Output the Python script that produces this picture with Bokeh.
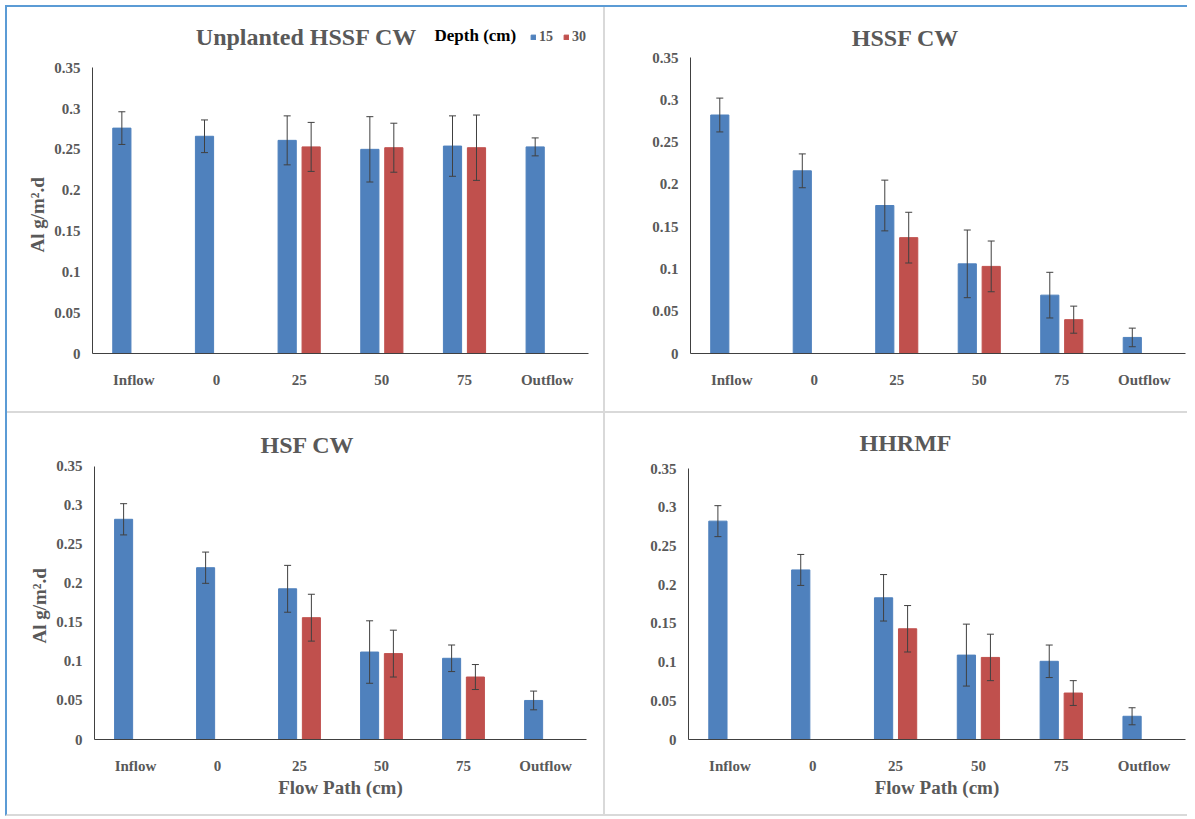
from bokeh.plotting import figure
from bokeh.models import (ColumnDataSource, FactorRange, Range1d, Whisker, TeeHead, Label,
                          Legend, LegendItem, FixedTicker, CustomJSTickFormatter, Title, Spacer)
from bokeh.transform import dodge
from bokeh.layouts import row, column
from bokeh.embed import file_html
from bokeh.resources import INLINE

# ---------------- data ----------------
cats = ["Inflow", "0", "25", "50", "75", "Outflow"]
yticks = [0, 0.05, 0.1, 0.15, 0.2, 0.25, 0.3, 0.35]
ymax = 0.35

titles = ["Unplanted HSSF CW", "HSSF CW", "HSF CW", "HHRMF"]
depth_labels = ["15", "30"]
y_title = "Al g/m\u00b2.d"
x_title = "Flow Path (cm)"

unpl_15 = [0.276, 0.266, 0.261, 0.250, 0.254, 0.253]
unpl_15_err = [0.020, 0.020, 0.030, 0.040, 0.037, 0.011]
unpl_30 = [None, None, 0.253, 0.252, 0.252, None]
unpl_30_err = [None, None, 0.030, 0.030, 0.040, None]

hssf_15 = [0.282, 0.216, 0.175, 0.106, 0.069, 0.019]
hssf_15_err = [0.020, 0.020, 0.030, 0.040, 0.027, 0.011]
hssf_30 = [None, None, 0.137, 0.103, 0.040, None]
hssf_30_err = [None, None, 0.030, 0.030, 0.016, None]

hsf_15 = [0.282, 0.220, 0.193, 0.112, 0.104, 0.050]
hsf_15_err = [0.020, 0.020, 0.030, 0.040, 0.017, 0.012]
hsf_30 = [None, None, 0.156, 0.110, 0.080, None]
hsf_30_err = [None, None, 0.030, 0.030, 0.016, None]

hhrmf_15 = [0.282, 0.219, 0.183, 0.109, 0.101, 0.030]
hhrmf_15_err = [0.020, 0.020, 0.030, 0.040, 0.021, 0.011]
hhrmf_30 = [None, None, 0.143, 0.106, 0.060, None]
hhrmf_30_err = [None, None, 0.030, 0.030, 0.016, None]

# ---------------- style ----------------
BLUE = "#4f81bd"
RED = "#c0504d"
GRAY = "#595959"
SEP = "#d9d9d9"
FONT = "Liberation Serif"


def src_of(vals, errs):
    c, v, lo, up = [], [], [], []
    for cat, val, err in zip(cats, vals, errs):
        if val is None:
            continue
        c.append(cat)
        v.append(val)
        lo.append(val - err)
        up.append(val + err)
    return ColumnDataSource(dict(cat=c, v=v, lo=lo, up=up))


def make(title, d15, e15, d30, e30, w, h, ml, mb, mr, frame_h, plot_h, title_xy,
         ylabel_off=None, xlabel=None, legend=False):
    # the frame reaches above the 0.35 tick so the title can sit inside it;
    # the axis line itself is bounded to 0..0.35
    mt = h - mb - frame_h
    p = figure(x_range=FactorRange(*cats), y_range=Range1d(0, ymax * frame_h / plot_h),
               width=w, height=h, output_backend="svg", toolbar_location=None,
               min_border=0, min_border_left=ml, min_border_top=mt,
               min_border_bottom=mb, min_border_right=mr)
    p.outline_line_color = None
    p.grid.visible = False
    p.background_fill_color = "white"
    p.border_fill_color = "white"

    s15 = src_of(d15, e15)
    s30 = src_of(d30, e30)
    r15 = p.vbar(x=dodge("cat", -0.145, range=p.x_range), top="v", width=0.22,
                 source=s15, fill_color=BLUE, line_color=BLUE)
    r30 = p.vbar(x=dodge("cat", 0.145, range=p.x_range), top="v", width=0.22,
                 source=s30, fill_color=RED, line_color=RED)
    for s, off in ((s15, -0.145), (s30, 0.145)):
        wk = Whisker(base=dodge("cat", off, range=p.x_range), upper="up", lower="lo",
                     source=s, line_color="#404040", line_width=1, level="overlay",
                     upper_head=TeeHead(size=7, line_color="#404040", line_width=1),
                     lower_head=TeeHead(size=7, line_color="#404040", line_width=1))
        p.add_layout(wk)

    # axes
    p.yaxis.ticker = FixedTicker(ticks=yticks)
    p.yaxis.bounds = (0, ymax)
    p.yaxis.formatter = CustomJSTickFormatter(code="return parseFloat(tick.toFixed(2)).toString();")
    for ax in (p.xaxis[0], p.yaxis[0]):
        ax.major_tick_line_color = None
        ax.minor_tick_line_color = None
        ax.axis_line_color = "#404040"
        ax.axis_line_width = 1
        ax.major_label_text_font = FONT
        ax.major_label_text_font_style = "bold"
        ax.major_label_text_font_size = "15px"
        ax.major_label_text_color = GRAY
        ax.axis_label_text_font = FONT
        ax.axis_label_text_font_style = "bold"
        ax.axis_label_text_color = GRAY
    p.xaxis.axis_label_text_font_size = "19px"
    p.yaxis.major_label_standoff = 6
    p.xaxis.major_label_standoff = 12
    p.xaxis.axis_label_standoff = 0
    if xlabel:
        p.xaxis.axis_label = xlabel

    if ylabel_off is not None:
        # vertical axis title, left of the tick labels, centred on 0..0.35
        p.add_layout(Title(text=y_title, align="left", offset=ylabel_off, standoff=8,
                           text_font=FONT, text_font_style="bold", text_font_size="19px",
                           text_color=GRAY), "left")

    p.add_layout(Label(x=title_xy[0], y=title_xy[1], x_units="screen", y_units="screen",
                       text=title, text_align="center", text_baseline="alphabetic",
                       text_font=FONT, text_font_style="bold", text_font_size="24px",
                       text_color=GRAY))

    if legend:
        p.add_layout(Label(x=342, y=318, x_units="screen", y_units="screen",
                           text="Depth (cm)", text_align="left",
                           text_baseline="alphabetic", text_font=FONT,
                           text_font_style="bold", text_font_size="17px",
                           text_color="black"))
        lg = Legend(items=[LegendItem(label=depth_labels[0], renderers=[r15]),
                           LegendItem(label=depth_labels[1], renderers=[r30])],
                    orientation="horizontal", location=(438, 308),
                    padding=0, margin=0, border_line_color=None,
                    background_fill_alpha=0, glyph_width=6, glyph_height=6,
                    label_width=0, label_height=14, label_standoff=3, spacing=10,
                    label_text_font=FONT, label_text_font_style="bold",
                    label_text_font_size="14px", label_text_color=GRAY)
        p.add_layout(lg, "center")
    return p


p1 = make(titles[0], unpl_15, unpl_15_err, unpl_30, unpl_30_err,
          596, 404, 85, 53, 15, 347, 290, (214, 317), ylabel_off=101, legend=True)
p2 = make(titles[1], hssf_15, hssf_15_err, hssf_30, hssf_30_err,
          582, 404, 85, 58, 2, 342, 296, (215, 316))
p3 = make(titles[2], hsf_15, hsf_15_err, hsf_30, hsf_30_err,
          596, 401, 87, 73, 17, 324, 275, (213, 295), ylabel_off=96,
          xlabel=x_title)
p4 = make(titles[3], hhrmf_15, hhrmf_15_err, hhrmf_30, hhrmf_30_err,
          582, 401, 83, 75, 2, 322, 271, (217, 297), xlabel=x_title)

vsep1 = Spacer(width=2, height=404, styles={"background-color": SEP})
vsep2 = Spacer(width=2, height=401, styles={"background-color": SEP})
hsep = Spacer(width=1180, height=2, styles={"background-color": SEP})

top = row(p1, vsep1, p2, spacing=0)
bottom = row(p3, vsep2, p4, spacing=0)
lay = column(top, hsep, bottom, spacing=0,
             styles={"background-color": "white",
                     "margin-top": "5px",
                     "margin-left": "5px",
                     "border-top": "2px solid #5b9bd5",
                     "border-left": "2px solid #5b9bd5",
                     "border-bottom": "2px solid " + SEP})

open("out.html", "w").write(file_html(lay, INLINE))
